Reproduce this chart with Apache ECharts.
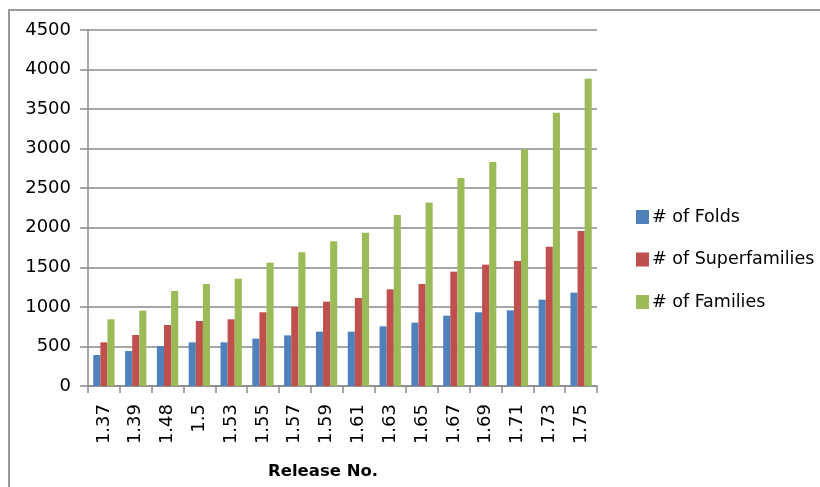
<!DOCTYPE html>
<html>
<head>
<meta charset="utf-8">
<script src="https://cdn.jsdelivr.net/npm/echarts@6/dist/echarts.min.js"></script>
<style>
  html, body { margin: 0; padding: 0; background: #fff; }
  #chart { width: 820px; height: 487px; }
</style>
</head>
<body>
<div id="chart"></div>
<script>
// SCOP release statistics: folds, superfamilies and families per release
const releases = ['1.37', '1.39', '1.48', '1.5', '1.53', '1.55', '1.57', '1.59',
                  '1.61', '1.63', '1.65', '1.67', '1.69', '1.71', '1.73', '1.75'];
const folds = [392, 442, 506, 552, 552, 598, 640, 687, 687, 754, 800, 889, 932, 957, 1091, 1180];
const superfamilies = [552, 645, 771, 822, 843, 932, 999, 1066, 1112, 1222, 1290, 1445, 1534, 1580, 1761, 1960];
const families = [843, 952, 1201, 1290, 1357, 1559, 1690, 1829, 1938, 2162, 2318, 2630, 2832, 2988, 3455, 3885];
const yTicks = { min: 0, max: 4500, step: 500 };

const FONT = 'DejaVu Sans';
const AXIS_GRAY = '#8a8a8a';

const chart = echarts.init(document.getElementById('chart'), null, { renderer: 'canvas' });

const bar = (name, data, color) => ({
  name, type: 'bar', data,
  barGap: '0%', barCategoryGap: '33%',
  itemStyle: { color },
  emphasis: { disabled: true }
});

chart.setOption({
  animation: false,
  backgroundColor: '#ffffff',
  grid: { left: 88, right: 223, top: 30, bottom: 101, containLabel: false },
  legend: {
    orient: 'vertical',
    left: 636, top: 208, padding: 0,
    itemWidth: 13, itemHeight: 14, itemGap: 24.5,
    icon: 'rect',
    textStyle: { fontFamily: FONT, fontSize: 17.5, color: '#000', padding: [0, 0, 0, -2] },
    data: ['# of Folds', '# of Superfamilies', '# of Families']
  },
  xAxis: {
    type: 'category',
    data: releases,
    axisLine: { lineStyle: { color: AXIS_GRAY, width: 1.5 } },
    axisTick: { show: true, length: 7, lineStyle: { color: AXIS_GRAY, width: 1.5 } },
    axisLabel: { rotate: 90, margin: 18, interval: 0, fontFamily: FONT, fontSize: 18, color: '#000' }
  },
  yAxis: {
    type: 'value',
    min: yTicks.min, max: yTicks.max, interval: yTicks.step,
    axisLine: { show: true, lineStyle: { color: AXIS_GRAY, width: 1.5 } },
    axisTick: { show: true, length: 8, lineStyle: { color: AXIS_GRAY, width: 1.5 } },
    axisLabel: { margin: 17, fontFamily: FONT, fontSize: 18, color: '#000', formatter: v => String(v) },
    splitLine: { lineStyle: { color: AXIS_GRAY, width: 1.5 } }
  },
  series: [
    bar('# of Folds', folds, '#4f81bd'),
    bar('# of Superfamilies', superfamilies, '#c0504d'),
    bar('# of Families', families, '#9bbb59')
  ],
  graphic: [
    {
      type: 'rect', silent: true, z: -1,
      shape: { x: 9, y: 10, width: 900, height: 600 },
      style: { fill: 'none', stroke: '#9a9a9a', lineWidth: 2 }
    },
    {
      type: 'text', left: 268, top: 463,
      style: { text: 'Release No.', fontFamily: FONT, fontSize: 16.5, fontWeight: 'bold', fill: '#000' }
    }
  ]
});
</script>
</body>
</html>
